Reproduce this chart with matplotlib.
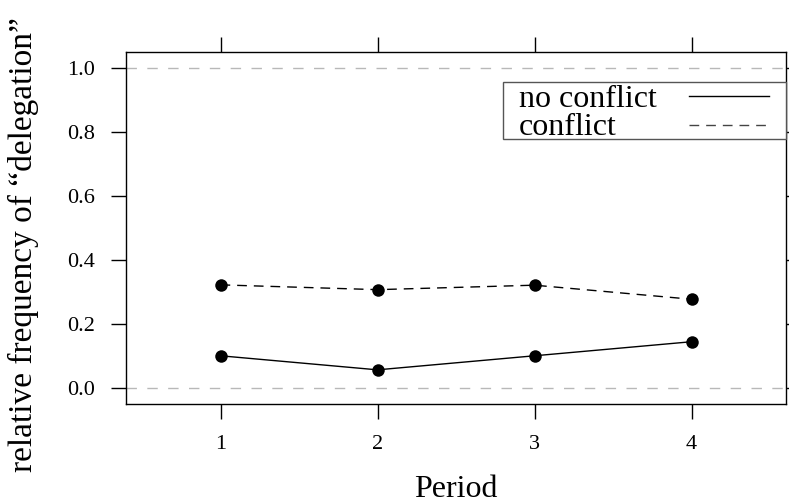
import matplotlib
matplotlib.use("Agg")
import matplotlib.pyplot as plt
from matplotlib.patches import Rectangle

periods = [1, 2, 3, 4]
no_conflict = [0.100, 0.056, 0.100, 0.144]
conflict = [0.322, 0.307, 0.321, 0.277]
series_labels = ["no conflict", "conflict"]
yticks = [0.0, 0.2, 0.4, 0.6, 0.8, 1.0]
ytick_labels = ["0.0", "0.2", "0.4", "0.6", "0.8", "1.0"]
xlabel = "Period"
ylabel = "relative frequency of \u201cdelegation\u201d"

plt.rcParams['font.family'] = ['Liberation Serif', 'DejaVu Serif']

fig = plt.figure(figsize=(7.89, 5.04), dpi=100)
W, H = 789, 504
left, right, top, bottom = 126.3, 785.7, 52.3, 403.7
ax = fig.add_axes([left / W, 1 - bottom / H, (right - left) / W, (bottom - top) / H])

# reference lines
for ref in (0.0, 1.0):
    ax.axhline(ref, color='#b8b8b8', lw=1.0, dashes=(7.5, 7.5), zorder=1)

ax.plot(periods, no_conflict, color='black', lw=1.0, marker='o', ms=9,
        markeredgewidth=0, zorder=3)
ax.plot(periods, conflict, color='black', lw=1.0, dashes=(7, 5), marker='o', ms=9,
        markeredgewidth=0, zorder=3)

ax.set_xlim(0.4, 4.6)
ax.set_ylim(-0.05, 1.05)
ax.set_xticks(periods)
ax.set_xticklabels([str(p) for p in periods])
ax.set_yticks(yticks)
ax.set_yticklabels(ytick_labels)
ax.tick_params(axis='both', direction='out', length=11, width=1.0, labelsize=16,
               pad=11.5, top=True, right=True, labeltop=False, labelright=False)
for s in ax.spines.values():
    s.set_linewidth(1.0)

# legend (key box)
lx0, lx1 = (503 - left) / (right - left), 1.0
ly0 = 1 - (139 - top) / (bottom - top)
ly1 = 1 - (82 - top) / (bottom - top)
ax.add_patch(Rectangle((lx0, ly0), lx1 - lx0, ly1 - ly0, transform=ax.transAxes,
                       fill=True, facecolor='white', edgecolor='#555555', lw=1.0,
                       clip_on=False, zorder=5))
tx = (519 - left) / (right - left)
base_y = [1 - (106.7 - top) / (bottom - top), 1 - (135 - top) / (bottom - top)]
line_y = [1 - (95.7 - top) / (bottom - top), 1 - (125 - top) / (bottom - top)]
sx0, sx1 = (689 - left) / (right - left), (769 - left) / (right - left)
styles = [dict(color='black'), dict(color='#444444', dashes=(7, 5))]
for lab, by, ly, st in zip(series_labels, base_y, line_y, styles):
    ax.text(tx, by, lab, transform=ax.transAxes, fontsize=23, va='baseline',
            ha='left', zorder=6)
    ax.plot([sx0, sx1], [ly, ly], transform=ax.transAxes, lw=1.0, clip_on=False,
            zorder=6, **st)

fig.text((left + right) / 2 / W, 1 - 497 / H, xlabel, fontsize=23,
         ha='center', va='baseline')
fig.text(23 / W, 1 - 245 / H, ylabel, fontsize=24, rotation=90,
         ha='center', va='center')

fig.savefig('out.png', dpi=100)
